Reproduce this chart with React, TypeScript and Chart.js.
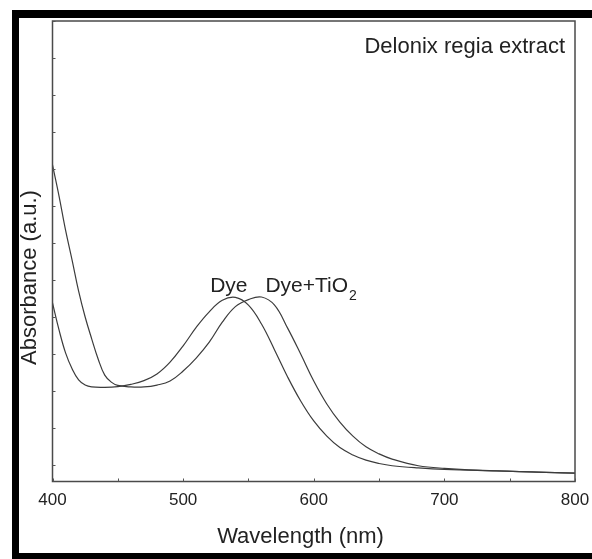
import React, { useEffect, useRef } from "react";
import { Chart, registerables } from "chart.js";

Chart.register(...registerables);

// Dye (Delonix regia extract) absorbance spectrum
const dyeWavelength = [400, 405, 410, 415, 420, 425, 430, 440, 450, 460, 470, 480, 490, 500, 510, 520, 530, 540, 550, 560, 570, 580, 590, 600, 610, 620, 630, 640, 650, 660, 680, 700, 740, 800];
const dyeAbsorbance = [4.38, 3.65, 3.03, 2.6, 2.3, 2.16, 2.11, 2.1, 2.12, 2.18, 2.28, 2.46, 2.78, 3.22, 3.72, 4.14, 4.45, 4.53, 4.32, 3.81, 3.11, 2.38, 1.73, 1.19, 0.78, 0.47, 0.27, 0.13, 0.04, -0.02, -0.08, -0.12, -0.16, -0.22];

// Dye adsorbed on TiO2
const tio2Wavelength = [400, 405, 410, 415, 420, 425, 430, 435, 440, 445, 450, 460, 470, 480, 490, 500, 510, 520, 530, 540, 550, 560, 570, 580, 590, 600, 610, 620, 630, 640, 650, 660, 680, 700, 740, 800];
const tio2Absorbance = [8.11, 7.27, 6.35, 5.54, 4.7, 4.0, 3.41, 2.86, 2.43, 2.24, 2.15, 2.11, 2.11, 2.16, 2.27, 2.54, 2.89, 3.32, 3.86, 4.28, 4.47, 4.54, 4.32, 3.7, 3.0, 2.27, 1.65, 1.16, 0.78, 0.49, 0.3, 0.16, -0.02, -0.09, -0.16, -0.22];

const xTickValues = [400, 450, 500, 550, 600, 650, 700, 750, 800];
const xTickLabels = [400, 500, 600, 700, 800];
const yTickValues = [0, 1, 2, 3, 4, 5, 6, 7, 8, 9, 10, 11, 12];

const FONT = "'Liberation Sans', Arial, sans-serif";
const TEXT = "#222";
const LINE = "#3c3c3c";

const decorPlugin = {
  id: "decor",
  beforeDraw(chart: any) {
    const ctx = chart.ctx;
    ctx.save();
    ctx.fillStyle = "#fff";
    ctx.fillRect(0, 0, chart.width, chart.height);
    ctx.fillStyle = "#000";
    ctx.fillRect(12, 10, chart.width - 12, 8);
    ctx.fillRect(12, 10, 7, chart.height - 10);
    ctx.fillRect(12, 553, chart.width - 12, 6);
    ctx.restore();
  },
  afterDraw(chart: any) {
    const ctx = chart.ctx;
    const { left, right, top, bottom } = chart.chartArea;
    const xs = chart.scales.x;
    const ys = chart.scales.y;
    ctx.save();
    // plot frame
    ctx.strokeStyle = "#4a4a4a";
    ctx.lineWidth = 1.5;
    ctx.strokeRect(left, top, right - left, bottom - top);
    // inner tick marks
    ctx.lineWidth = 1;
    ctx.strokeStyle = "#555";
    ctx.beginPath();
    xTickValues.forEach((v) => {
      const px = Math.round(xs.getPixelForValue(v)) + 0.5;
      ctx.moveTo(px, bottom);
      ctx.lineTo(px, bottom - 3);
    });
    yTickValues.forEach((v) => {
      const py = Math.round(ys.getPixelForValue(v)) + 0.5;
      ctx.moveTo(left, py);
      ctx.lineTo(left + 3, py);
    });
    ctx.stroke();

    ctx.fillStyle = TEXT;
    // annotation
    ctx.font = `22px ${FONT}`;
    ctx.textAlign = "right";
    ctx.textBaseline = "alphabetic";
    ctx.fillText("Delonix regia extract", right - 10, 53);

    // series labels
    ctx.font = `21px ${FONT}`;
    ctx.textAlign = "center";
    const dyeX = xs.getPixelForValue(535);
    const labY = ys.getPixelForValue(4.68);
    ctx.fillText("Dye", dyeX, labY);
    ctx.textAlign = "left";
    const tx = xs.getPixelForValue(563);
    ctx.fillText("Dye+TiO", tx, labY);
    const w = ctx.measureText("Dye+TiO").width;
    ctx.font = `14px ${FONT}`;
    ctx.fillText("2", tx + w + 1, labY + 8);

    // axis titles
    ctx.font = `22px ${FONT}`;
    ctx.textAlign = "center";
    ctx.fillText("Wavelength (nm)", 300.5, 543);
    ctx.translate(36, 277.5);
    ctx.rotate(-Math.PI / 2);
    ctx.fillText("Absorbance (a.u.)", 0, 0);
    ctx.restore();
  },
};

export default function App() {
  const ref = useRef<HTMLCanvasElement>(null);
  useEffect(() => {
    document.body.style.margin = "0";
    const canvas = ref.current!;
    const chart = new Chart(canvas, {
      type: "scatter",
      data: {
        datasets: [
          {
            label: "Dye",
            data: dyeWavelength.map((x, i) => ({ x, y: dyeAbsorbance[i] })),
            showLine: true,
            borderColor: LINE,
            borderWidth: 1.2,
            pointRadius: 0,
            tension: 0.4,
          },
          {
            label: "Dye+TiO2",
            data: tio2Wavelength.map((x, i) => ({ x, y: tio2Absorbance[i] })),
            showLine: true,
            borderColor: LINE,
            borderWidth: 1.2,
            pointRadius: 0,
            tension: 0.4,
          },
        ],
      },
      options: {
        responsive: false,
        animation: false,
        layout: { padding: { top: 21, right: 17, left: 0, bottom: 0 } },
        plugins: { legend: { display: false }, tooltip: { enabled: false } },
        scales: {
          x: {
            type: "linear",
            min: 400,
            max: 800,
            afterBuildTicks: (s: any) => {
              s.ticks = xTickValues.map((v) => ({ value: v }));
            },
            afterFit: (s: any) => {
              s.height = 77.5;
              s.paddingLeft = 0;
              s.paddingRight = 0;
            },
            ticks: {
              autoSkip: false,
              maxRotation: 0,
              padding: 9,
              color: TEXT,
              font: { family: FONT, size: 17 },
              callback: (v: any) => (xTickLabels.includes(Number(v)) ? String(v) : ""),
            },
            grid: { display: false, drawTicks: false },
            border: { display: false },
          },
          y: {
            type: "linear",
            min: -0.446,
            max: 12,
            afterBuildTicks: (s: any) => {
              s.ticks = yTickValues.map((v) => ({ value: v }));
            },
            afterFit: (s: any) => {
              s.width = 52.5;
              s.paddingTop = 0;
              s.paddingBottom = 0;
            },
            ticks: { display: false },
            grid: { display: false, drawTicks: false },
            border: { display: false },
          },
        },
      },
      plugins: [decorPlugin],
    });
    return () => chart.destroy();
  }, []);
  return <canvas ref={ref} width={592} height={559} style={{ display: "block" }} />;
}
